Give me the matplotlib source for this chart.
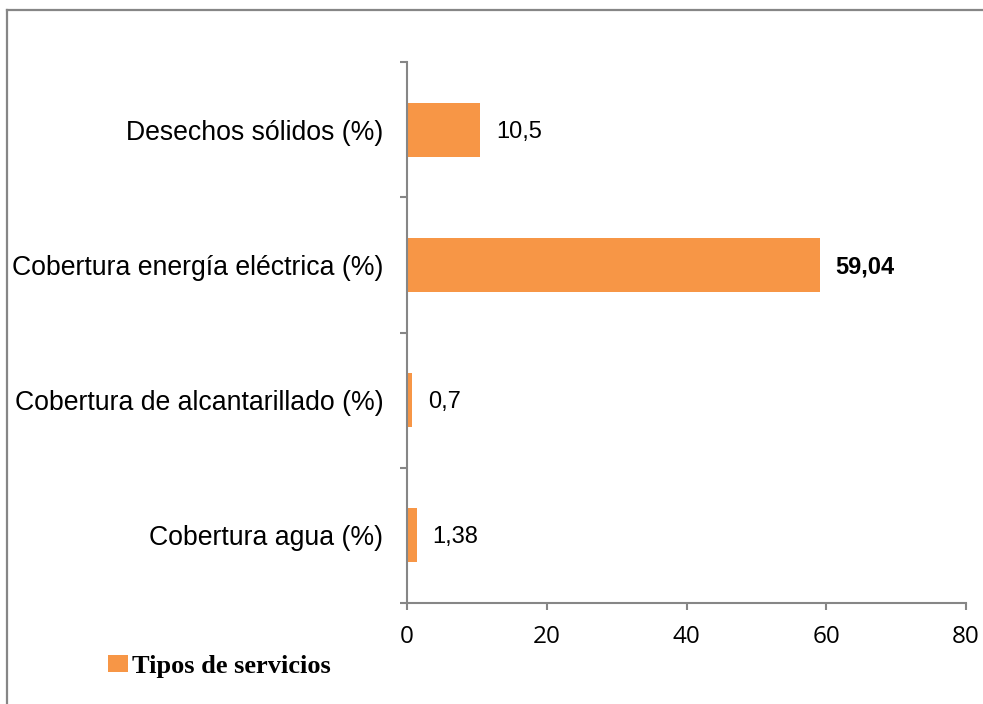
import matplotlib
matplotlib.use("Agg")
import matplotlib.pyplot as plt
from matplotlib.lines import Line2D
import numpy as np

categories = ["Cobertura agua (%)", "Cobertura de alcantarillado (%)",
              "Cobertura energía eléctrica (%)", "Desechos sólidos (%)"]
values = [1.38, 0.7, 59.04, 10.5]
value_labels = ["1,38", "0,7", "59,04", "10,5"]
bold_flags = [False, False, True, False]
xticks = [0, 20, 40, 60, 80]
series_name = "Tipos de servicios"

bar_color = "#F79646"
axis_color = "#868686"

fig = plt.figure(figsize=(9.83, 7.04), dpi=100)
ax = fig.add_axes([407/983, 1-603/704, (966-407)/983, (603-62)/704])

y = np.arange(len(categories))
bars = ax.barh(y, values, height=0.4, color=bar_color, label=series_name, zorder=2)

ax.set_xlim(0, 80)
ax.set_ylim(-0.5, len(categories) - 0.5)

for sp in ["top", "right"]:
    ax.spines[sp].set_visible(False)
for sp in ["left", "bottom"]:
    ax.spines[sp].set_color(axis_color)
    ax.spines[sp].set_linewidth(1.5)

ax.set_xticks(xticks)
ax.set_xticklabels([str(t) for t in xticks], fontfamily=["Open Sans", "DejaVu Sans"], fontsize=17.5)
ax.tick_params(axis="x", direction="out", length=5, width=1.5, color=axis_color, pad=11)

ax.set_yticks(np.arange(-0.5, len(categories), 1.0))
ax.set_yticklabels([])
ax.tick_params(axis="y", which="major", direction="out", length=5, width=1.5, color=axis_color)
ax.set_yticks(y, minor=True)
ax.set_yticklabels(categories, minor=True, fontfamily="Liberation Sans", fontsize=19.2)
ax.tick_params(axis="y", which="minor", length=0, pad=17)

for yi, v, lab, b in zip(y, values, value_labels, bold_flags):
    ax.annotate(lab, xy=(v, yi), xytext=(11.5, -1.5), textcoords="offset points",
                va="center", ha="left", fontfamily="Liberation Sans", fontsize=17,
                fontweight="bold" if b else "normal")

leg = ax.legend(loc="center left", bbox_to_anchor=(108/983, 1-666/704),
                bbox_transform=fig.transFigure, frameon=False,
                prop={"family": "Liberation Serif", "weight": "bold", "size": 19},
                handlelength=0.75, handleheight=0.6, handletextpad=0.15,
                borderpad=0, borderaxespad=0)

# outer chart frame (top and left edges visible)
fig.add_artist(Line2D([7/983, 1.0], [1-10/704, 1-10/704], transform=fig.transFigure,
                      color=axis_color, linewidth=1.6))
fig.add_artist(Line2D([7/983, 7/983], [0.0, 1-10/704], transform=fig.transFigure,
                      color=axis_color, linewidth=1.6))

fig.savefig("out.png", dpi=100)
